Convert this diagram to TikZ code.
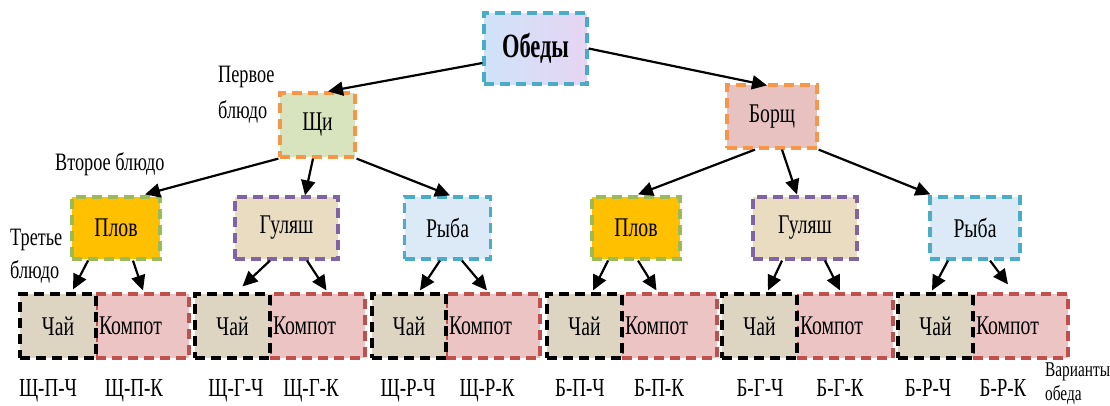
\documentclass[tikz,border=0pt]{standalone}
\usepackage{fontspec}
\setmainfont{Liberation Serif}[FakeStretch=0.73]
\newfontfamily\obfont{Liberation Serif}[FakeStretch=0.66]
\usetikzlibrary{arrows.meta,calc}
\definecolor{cOrange}{HTML}{F79646}
\definecolor{cGreen}{HTML}{9BBB59}
\definecolor{cPurple}{HTML}{8064A2}
\definecolor{cCyan}{HTML}{4BACC6}
\definecolor{cRed}{HTML}{C0504D}
\definecolor{fShchi}{HTML}{D7E4BD}
\definecolor{fBorsch}{HTML}{E8C2C0}
\definecolor{fPlov}{HTML}{FFC000}
\definecolor{fGul}{HTML}{EADCC0}
\definecolor{fRyba}{HTML}{DCEAF7}
\definecolor{fChai}{HTML}{DDD4C2}
\definecolor{fKomp}{HTML}{ECC4C4}
\definecolor{fObL}{HTML}{CFE3F8}
\definecolor{fObR}{HTML}{E6D5F3}
\tikzset{
  box/.style={draw, line width=3.2pt, dash pattern=on 10pt off 6pt, inner sep=0pt,
    font=\fontsize{27}{30}\selectfont, text=black},
  arr/.style={line width=2.2pt, -{Triangle[length=15pt,width=14pt]}},
  lbl/.style={font=\fontsize{25}{30}\selectfont, anchor=base west, inner sep=0pt},
  var/.style={font=\fontsize{26}{30}\selectfont, anchor=base, inner sep=0pt},
}
\begin{document}
\begin{tikzpicture}[x=1pt,y=-1pt]
\useasboundingbox (0,0) rectangle (1110,405);
% top
\node[box, draw=cCyan, left color=fObL, right color=fObR, minimum width=103pt, minimum height=71pt,
  font=\obfont\bfseries\fontsize{34}{38}\selectfont] (obedy) at (535.5,48.5) {Обеды};
\node[box, draw=cOrange, fill=fShchi, minimum width=75pt, minimum height=64pt] (shchi) at (317.5,125) {Щи};
\node[box, draw=cOrange, fill=fBorsch, minimum width=90pt, minimum height=63pt] (borsch) at (772,116.5) {Борщ};
% second row
\node[box, draw=cGreen, fill=fPlov, minimum width=88pt, minimum height=62pt] (plovL) at (116,228) {Плов};
\node[box, draw=cPurple, fill=fGul, minimum width=103pt, minimum height=62pt] (gulL) at (286.5,228) {Гуляш};
\node[box, draw=cCyan, fill=fRyba, minimum width=86pt, minimum height=62pt] (rybaL) at (447.5,228) {Рыба};
\node[box, draw=cGreen, fill=fPlov, minimum width=88pt, minimum height=62pt] (plovR) at (636,228) {Плов};
\node[box, draw=cPurple, fill=fGul, minimum width=104pt, minimum height=62pt] (gulR) at (805,228) {Гуляш};
\node[box, draw=cCyan, fill=fRyba, minimum width=90pt, minimum height=62pt] (rybaR) at (975,228) {Рыба};
% bottom row
\foreach \i/\cx/\cw/\kx/\kw in {1/58/76/142.5/93, 2/232.5/75/317.5/95, 3/409/74/493/94,
  4/584.5/75/669.5/95, 5/759.5/75/845/96, 6/935.5/75/1020.5/95}{
  \node[box, draw=cRed, fill=fKomp, minimum width=\kw pt, minimum height=64pt,
    text width=\kw pt-6pt, inner xsep=3pt, align=left] (komp\i) at (\kx,326) {Компот};
  \node[box, draw=black, fill=fChai, minimum width=\cw pt, minimum height=64pt] (chai\i) at (\cx,326) {Чай};
}
% side labels
\node[lbl] (l1a) at (218,82) {Первое};
\node[lbl] (l1b) at (218,118) {блюдо};
\node[lbl] (l2) at (55,170) {Второе блюдо};
\node[lbl] (l3a) at (10,245) {Третье};
\node[lbl] (l3b) at (10,278) {блюдо};
\node[lbl, font=\fontsize{21}{24}\selectfont] (va) at (1045,376) {Варианты};
\node[lbl, font=\fontsize{21}{24}\selectfont] (vb) at (1045,400) {обеда};
% variant labels
\foreach \n/\x/\t in {v1/48/Щ-П-Ч, v2/134/Щ-П-К, v3/236/Щ-Г-Ч, v4/311/Щ-Г-К, v5/408/Щ-Р-Ч, v6/487/Щ-Р-К,
  v7/580/Б-П-Ч, v8/659/Б-П-К, v9/760/Б-Г-Ч, v10/840/Б-Г-К, v11/928/Б-Р-Ч, v12/1003/Б-Р-К}{
  \node[var] (\n) at (\x,396) {\t};
}
% arrows
\draw[arr] ($(obedy.west)+(0,14.5)$) -- ($(shchi.north)+(10.5,0)$);
\draw[arr] (obedy.east) -- ($(borsch.north)+(-5,2)$);
\draw[arr] (shchi.south west) -- ($(plovL.north)+(29,-1)$);
\draw[arr] ($(shchi.south)+(-4.5,0)$) -- ($(gulL.north)+(18.5,0)$);
\draw[arr] (shchi.south east) -- ($(rybaL.north)+(2.5,0)$);
\draw[arr] ($(borsch.south)+(-17,0)$) -- ($(plovR.north)+(2,-1)$);
\draw[arr] ($(borsch.south)+(10,0)$) -- ($(gulR.north)+(-8,-1)$);
\draw[arr] (borsch.south east) -- ($(rybaR.north west)+(2,-1)$);
\draw[arr] ($(plovL.south)+(-28,0)$) -- ($(chai1.north)+(15,-3)$);
\draw[arr] ($(plovL.south)+(17,0)$) -- ($(komp1.north)+(0.5,-2)$);
\draw[arr] ($(gulL.south)+(-16.5,0)$) -- ($(chai2.north)+(10,-6)$);
\draw[arr] ($(gulL.south)+(20.5,0)$) -- ($(komp2.north)+(9,-2)$);
\draw[arr] ($(rybaL.south)+(-7.5,0)$) -- ($(chai3.north)+(11,-2)$);
\draw[arr] ($(rybaL.south)+(14.5,0)$) -- ($(komp3.north)+(-6,-2)$);
\draw[arr] ($(plovR.south)+(-28,0)$) -- ($(chai4.north)+(8.5,-2)$);
\draw[arr] ($(plovR.south)+(2,0)$) -- ($(komp4.north)+(-13,-2)$);
\draw[arr] ($(gulR.south)+(-23,0)$) -- ($(chai5.north)+(8.5,-2)$);
\draw[arr] ($(gulR.south)+(20,0)$) -- ($(komp5.north)+(-5,-2)$);
\draw[arr] ($(rybaR.south)+(-27,0)$) -- ($(chai6.north)+(-3.5,-2)$);
\draw[arr] ($(rybaR.south)+(15,0)$) -- ($(komp6.north)+(-12.5,-8)$);
\end{tikzpicture}
\end{document}
